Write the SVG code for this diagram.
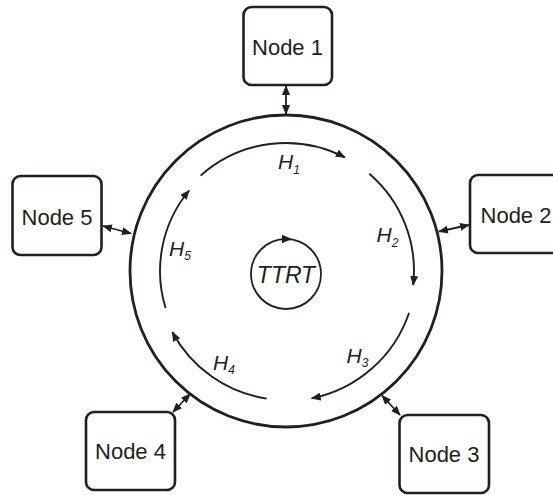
<svg xmlns="http://www.w3.org/2000/svg" width="553" height="495" viewBox="0 0 553 495">
<defs>
<style>
.box{fill:#fff;stroke:#231f20;stroke-width:2.6}
.lbl{font-family:"Liberation Sans",Arial,sans-serif;font-size:22px;fill:#231f20;text-anchor:middle}
.h{font-family:"Liberation Sans",Arial,sans-serif;font-style:italic;font-size:21px;fill:#231f20}
.sub{font-size:12px}
.conn{fill:none;stroke:#231f20;stroke-width:1.8}
.arc{fill:none;stroke:#231f20;stroke-width:1.9}
</style>
<marker id="ah" viewBox="0 0 10 8" refX="9" refY="4" markerWidth="10" markerHeight="8" markerUnits="userSpaceOnUse" orient="auto-start-reverse">
<path d="M0,0 L10,4 L0,8 Z" fill="#231f20"/>
</marker>
</defs>
<rect width="553" height="495" fill="#fff"/>
<g id="ring">
<circle cx="286" cy="271" r="156" fill="none" stroke="#231f20" stroke-width="2.8"/>
</g>
<g id="connectors">
<line class="conn" x1="286" y1="86" x2="286" y2="114" marker-start="url(#ah)" marker-end="url(#ah)"/>
<line class="conn" x1="103" y1="226" x2="131" y2="233.5" marker-start="url(#ah)" marker-end="url(#ah)"/>
<line class="conn" x1="439" y1="231.5" x2="469" y2="225" marker-start="url(#ah)" marker-end="url(#ah)"/>
<line class="conn" x1="173" y1="412" x2="190" y2="394" marker-start="url(#ah)" marker-end="url(#ah)"/>
<line class="conn" x1="382" y1="395.5" x2="400" y2="415" marker-start="url(#ah)" marker-end="url(#ah)"/>
</g>
<g id="tokens">
<path class="arc" d="M200.6,175.6 A128,128 0 0 1 344.9,157.4" marker-end="url(#ah)"/>
<path class="arc" d="M369.3,173.8 A128,128 0 0 1 413.2,285.0" marker-end="url(#ah)"/>
<path class="arc" d="M409.1,312.7 A130,130 0 0 1 311.7,398.4" marker-end="url(#ah)"/>
<path class="arc" d="M266.7,398.6 A129,129 0 0 1 172.4,332.2" marker-end="url(#ah)"/>
<path class="arc" d="M165.6,308.0 A126,126 0 0 1 189.1,190.5" marker-end="url(#ah)"/>
<text class="h" x="278" y="168.5">H<tspan class="sub" dy="5">1</tspan></text>
<text class="h" x="376.5" y="241.5">H<tspan class="sub" dy="5">2</tspan></text>
<text class="h" x="346.5" y="363">H<tspan class="sub" dy="4">3</tspan></text>
<text class="h" x="213" y="369.5">H<tspan class="sub" dy="4">4</tspan></text>
<text class="h" x="169" y="255.5">H<tspan class="sub" dy="4.5">5</tspan></text>
</g>
<g id="ttrt">
<circle cx="286" cy="274" r="35" fill="none" stroke="#231f20" stroke-width="1.8"/>
<path d="M292,239 L282,234.8 L282,243.2 Z" fill="#231f20"/>
<text x="286" y="283" font-family="'Liberation Sans',Arial,sans-serif" font-style="italic" font-size="23" fill="#231f20" text-anchor="middle">TTRT</text>
</g>
<g id="node1">
<rect class="box" x="243.5" y="7" width="88.5" height="78" rx="8"/>
<text class="lbl" x="287.5" y="55">Node 1</text>
</g>
<g id="node2">
<rect class="box" x="470" y="175" width="90" height="78" rx="8"/>
<text class="lbl" x="516" y="223">Node 2</text>
</g>
<g id="node3">
<rect class="box" x="399.5" y="415" width="89.5" height="78" rx="8"/>
<text class="lbl" x="444" y="462">Node 3</text>
</g>
<g id="node4">
<rect class="box" x="86" y="412" width="89" height="78" rx="8"/>
<text class="lbl" x="130.5" y="458.5">Node 4</text>
</g>
<g id="node5">
<rect class="box" x="12.5" y="176" width="89" height="79" rx="8"/>
<text class="lbl" x="57" y="225">Node 5</text>
</g>
</svg>
